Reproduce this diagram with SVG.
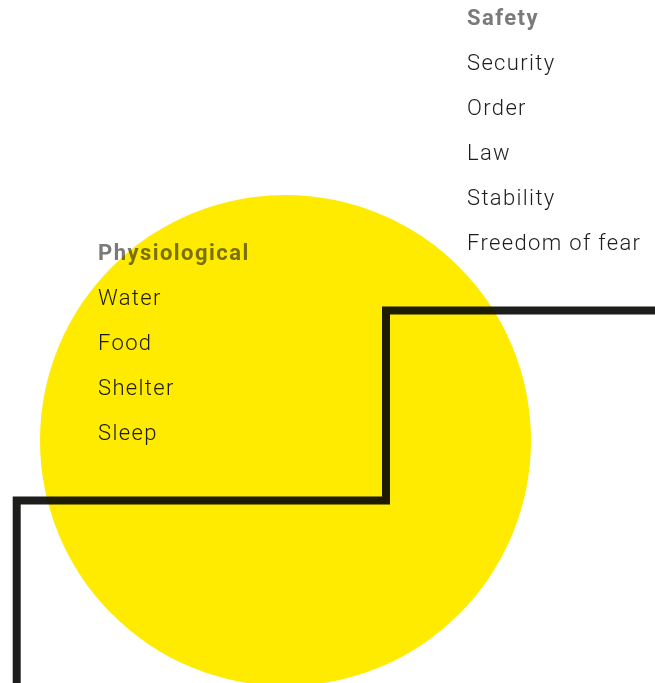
<svg xmlns="http://www.w3.org/2000/svg" width="655" height="683" viewBox="0 0 655 683">
<style>
.t{font-family:Roboto,"Liberation Sans",sans-serif;font-size:22px;font-weight:300;fill:#1d1d1b;letter-spacing:1.35px;mix-blend-mode:multiply}
.h{font-family:Roboto,"Liberation Sans",sans-serif;font-size:22px;font-weight:bold;fill:#7a7a7a;letter-spacing:1.45px;mix-blend-mode:multiply}
.stair{fill:none;stroke:#1d1d1b;stroke-width:8;stroke-linejoin:miter;mix-blend-mode:multiply}
</style>
<rect width="655" height="683" fill="#ffffff"/>
<circle id="circle" cx="285.5" cy="440.5" r="245.5" fill="#ffeb00"/>
<g id="physiological">
<text class="h" x="98" y="260">Physiological</text>
<text class="t" x="98" y="305">Water</text>
<text class="t" x="98" y="350">Food</text>
<text class="t" x="98" y="395">Shelter</text>
<text class="t" x="98" y="440">Sleep</text>
</g>
<g id="safety">
<text class="h" x="467" y="25">Safety</text>
<text class="t" x="467" y="70">Security</text>
<text class="t" x="467" y="115">Order</text>
<text class="t" x="467" y="160">Law</text>
<text class="t" x="467" y="205">Stability</text>
<text class="t" x="467" y="250">Freedom of fear</text>
</g>
<g id="connectors">
<path class="stair" d="M16.7 690 V500.5 H386 V310.5 H660"/>
</g>
</svg>
